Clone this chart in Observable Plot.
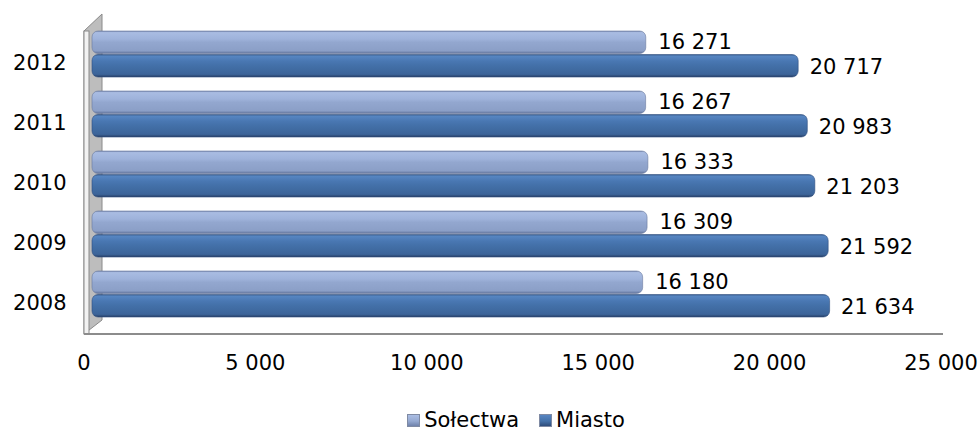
<!DOCTYPE html>
<html><head><meta charset="utf-8">
<script src="https://cdn.jsdelivr.net/npm/d3@7"></script>
<script src="https://cdn.jsdelivr.net/npm/@observablehq/plot@0.6"></script>
<style>
body{margin:0;background:#fff;font-family:"DejaVu Sans",sans-serif;}
#chart{width:979px;height:400px;}
#legend{height:32px;display:flex;justify-content:center;align-items:center;font-size:21px;color:#000;padding-left:53px;padding-top:8px;box-sizing:border-box;}
.item{display:flex;align-items:center;margin:0 10px;}
.sw{width:13px;height:13px;margin-right:4px;box-sizing:border-box;border:1px solid #7f8aa3;}
</style>
</head><body>
<div id="chart"></div>
<div id="legend"></div>
<script>
const years = ["2008", "2009", "2010", "2011", "2012"];
const solectwa = [16180, 16309, 16333, 16267, 16271];
const miasto = [21634, 21592, 21203, 20983, 20717];
const xTicks = [0, 5000, 10000, 15000, 20000, 25000];
const seriesNames = ["Sołectwa", "Miasto"];

const fmt = d3.formatLocale({decimal: ",", thousands: " ", grouping: [3], currency: ["", " zł"]}).format(",d");
const rows = years.map((y, i) => ({year: y, solectwa: solectwa[i], miasto: miasto[i]}));

function defsMark() {
  const d = d3.create("svg:defs");
  const g1 = d.append("linearGradient").attr("id", "gSol").attr("x1", 0).attr("y1", 0).attr("x2", 0).attr("y2", 1);
  [[0, "#7b8db3"], [0.07, "#a9bce2"], [0.35, "#9fb3db"], [0.5, "#93a7cf"], [0.88, "#8b9fc7"], [1, "#5f7198"]]
    .forEach(([o, c]) => g1.append("stop").attr("offset", o).attr("stop-color", c));
  const g2 = d.append("linearGradient").attr("id", "gMia").attr("x1", 0).attr("y1", 0).attr("x2", 0).attr("y2", 1);
  [[0, "#3a5e90"], [0.08, "#5685c1"], [0.3, "#4977b2"], [0.5, "#4370a8"], [0.88, "#3c6499"], [1, "#273f66"]]
    .forEach(([o, c]) => g2.append("stop").attr("offset", o).attr("stop-color", c));
  return d.node();
}

function wallMark(index, scales, values, dims) {
  const x = scales && scales.x ? scales.x : (v => 88 + v * 857 / 25000);
  const x0 = x(0), x1 = x(25000);
  const yTop = dims ? dims.marginTop : 15;
  const yBot = dims ? dims.height - dims.marginBottom : 334;
  const g = d3.create("svg:g");
  g.append("polygon")
    .attr("points", [[x0 - 4, yTop + 16], [x0 + 14, yTop - 1], [x0 + 14, yBot - 14], [x0 - 4, yBot]].map(p => p.join(",")).join(" "))
    .attr("fill", "#bdbdbd").attr("stroke", "#8a8a8a").attr("stroke-width", 1);
  g.append("rect").attr("x", x0 - 4).attr("y", yTop + 16).attr("width", 5).attr("height", yBot - yTop - 16)
    .attr("fill", "#f2f2f2").attr("stroke", "#8a8a8a").attr("stroke-width", 1);
  g.append("line").attr("x1", x0 - 4).attr("x2", x1 - 2).attr("y1", yBot).attr("y2", yBot)
    .attr("stroke", "#8c8c8c").attr("stroke-width", 2);
  return g.node();
}

const chart = Plot.plot({
  width: 979,
  height: 400,
  marginTop: 15,
  marginBottom: 66,
  marginLeft: 88,
  marginRight: 34,
  style: {fontFamily: "DejaVu Sans", fontSize: "21px", color: "#000", background: "#fff", overflow: "visible"},
  x: {domain: [0, 25000], range: [88, 945]},
  y: {domain: years.slice().reverse(), padding: 0.23},
  marks: [
    defsMark,
    wallMark,
    Plot.barX(rows, {x1: 0, x2: "solectwa", y: "year", fill: "url(#gSol)", insetBottom: 23.5, insetLeft: 4, rx: 6, stroke: "#6a7aa0", strokeWidth: 0.6}),
    Plot.barX(rows, {x1: 0, x2: "miasto", y: "year", fill: "url(#gMia)", insetTop: 23.5, insetLeft: 4, rx: 6, stroke: "#2f4f7f", strokeWidth: 0.6}),
    Plot.text(rows, {x: "solectwa", y: "year", text: d => fmt(d.solectwa), dx: 12, dy: -12, textAnchor: "start", fontSize: 21, fill: "#000"}),
    Plot.text(rows, {x: "miasto", y: "year", text: d => fmt(d.miasto), dx: 11, dy: 13, textAnchor: "start", fontSize: 21, fill: "#000"}),
    Plot.axisY({tickSize: 0, tickPadding: 22, dy: 9, fontSize: 21, label: null}),
    Plot.axisX(xTicks, {tickSize: 0, tickPadding: 21, dx: -4.5, tickFormat: fmt, fontSize: 21, label: null})
  ]
});
document.getElementById("chart").appendChild(chart);

const swatchBg = [
  "linear-gradient(#abbee4, #95a9d1 55%, #6f82ab)",
  "linear-gradient(#5886c2, #4471a9 55%, #2e4c7a)"
];
const legend = document.getElementById("legend");
seriesNames.forEach((name, i) => {
  const it = document.createElement("div");
  it.className = "item";
  const sw = document.createElement("div");
  sw.className = "sw";
  sw.style.background = swatchBg[i];
  const t = document.createElement("span");
  t.textContent = name;
  it.appendChild(sw); it.appendChild(t);
  legend.appendChild(it);
});
</script>
</body></html>
